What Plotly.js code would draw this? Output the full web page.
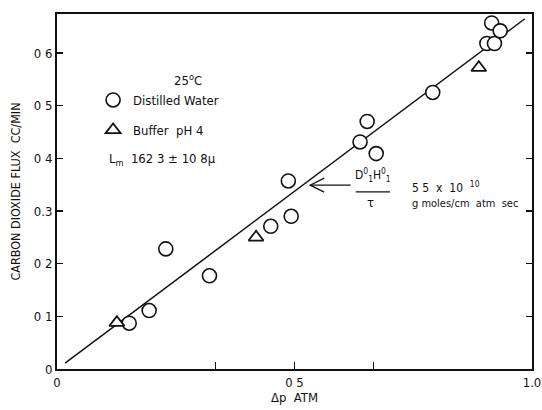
<!DOCTYPE html>
<html>
<head>
<meta charset="utf-8">
<script src="https://cdn.plot.ly/plotly-3.0.1.min.js"></script>
<style>html,body{margin:0;padding:0;background:#fff}#chart{width:542px;height:410px}</style>
</head>
<body>
<div id="chart"></div>
<script>
// Distilled water (circles)
const waterDp   = [0.152, 0.194, 0.229, 0.321, 0.450, 0.487, 0.493, 0.638, 0.653, 0.672, 0.791, 0.905, 0.921, 0.915, 0.933];
const waterFlux = [0.087, 0.111, 0.228, 0.177, 0.271, 0.357, 0.290, 0.431, 0.470, 0.409, 0.525, 0.618, 0.618, 0.657, 0.642];
// Buffer pH 4 (triangles)
const bufferDp   = [0.126, 0.419, 0.888];
const bufferFlux = [0.088, 0.250, 0.572];
// Fitted line
const fitDp   = [0.017, 0.985];
const fitFlux = [0.011, 0.665];
// Tick labels
const xTickVals = [0, 1/3, 0.5, 2/3, 1.0];
const xTickText = ["0", "", "0 5", "", "1.0"];
const yTickVals = [0, 0.1, 0.2, 0.3, 0.4, 0.5, 0.6];
const yTickText = ["0", "0 1", "0 2", "0.3", "0 4", "0 5", "0 6"];

const FONT = "DejaVu Sans Condensed, Liberation Sans Narrow, sans-serif";

const traces = [
  {x: fitDp, y: fitFlux, mode: "lines", line: {color: "#111", width: 1.5}, showlegend: false, hoverinfo: "skip"},
  {x: waterDp, y: waterFlux, mode: "markers", name: "Distilled Water", legendgroup: "a",
   marker: {symbol: "circle", size: 14, color: "#fff", line: {color: "#111", width: 1.6}}},
  {x: bufferDp, y: bufferFlux, mode: "markers", name: "Buffer  pH 4", legendgroup: "b",
   marker: {symbol: "triangle-up", size: 13, color: "#fff", line: {color: "#111", width: 1.8}}}
];

const layout = {
  width: 542, height: 410,
  margin: {l: 57, r: 10, t: 14, b: 41},
  paper_bgcolor: "#fff", plot_bgcolor: "#fff",
  font: {family: FONT, size: 12, color: "#111"},
  showlegend: true,
  legend: {x: 0.076, y: 0.80, xanchor: "left", yanchor: "top", bgcolor: "rgba(0,0,0,0)",
           font: {family: FONT, size: 13, color: "#111"}, tracegroupgap: 10, itemsizing: "trace"},
  xaxis: {range: [0, 1], tickvals: xTickVals, ticktext: xTickText, ticks: "inside", ticklen: 7,
          tickcolor: "#111", tickwidth: 1.5, showgrid: false, zeroline: false,
          showline: true, linecolor: "#111", linewidth: 2, mirror: true,
          title: {text: "Δp  ATM", font: {family: FONT, size: 13}, standoff: 2},
          tickfont: {family: FONT, size: 13}},
  yaxis: {range: [0, 0.674], tickvals: yTickVals, ticktext: yTickText, ticks: "inside", ticklen: 6,
          tickcolor: "#111", tickwidth: 1.5, showgrid: false, zeroline: false,
          showline: true, linecolor: "#111", linewidth: 2, mirror: "ticks",
          title: {text: "CARBON DIOXIDE FLUX  CC/MIN", font: {family: FONT, size: 12.5}, standoff: 10},
          tickfont: {family: FONT, size: 13}},
  annotations: [
    {xref: "paper", yref: "paper", x: 0.242, y: 0.842, text: "25<sup>o</sup>C", showarrow: false, font: {size: 13}},
    {xref: "paper", yref: "paper", x: 0.105, y: 0.589, xanchor: "left", text: "L<sub>m</sub>  162 3 ± 10 8μ", showarrow: false, font: {size: 13}},
    {xref: "paper", yref: "paper", x: 0.665, y: 0.547, text: "D<sup>0</sup><sub>1</sub>H<sup>0</sup><sub>1</sub>", showarrow: false, font: {size: 12}},
    {xref: "paper", yref: "paper", x: 0.660, y: 0.468, text: "τ", showarrow: false, font: {size: 13}},
    {xref: "paper", yref: "paper", x: 0.743, y: 0.512, xanchor: "left", text: "5 5  x  10  <sup>10</sup>", showarrow: false, font: {size: 12}},
    {xref: "paper", yref: "paper", x: 0.743, y: 0.465, xanchor: "left", text: "g moles/cm  atm  sec", showarrow: false, font: {size: 11}},
    {xref: "x", yref: "y", x: 0.533, y: 0.349, ax: 42, ay: 0, text: "", showarrow: true, arrowhead: 0, arrowwidth: 1.3, arrowcolor: "#111", standoff: 0}
  ],
  shapes: [
    {type: "path", xref: "x", yref: "y", xsizemode: "pixel", ysizemode: "pixel", xanchor: 0.533, yanchor: 0.349,
     path: "M 14,-7 L 0,0 L 14,7", line: {color: "#111", width: 1.3}},
    {type: "line", xref: "paper", yref: "paper", x0: 0.629, x1: 0.701, y0: 0.499, y1: 0.499, line: {color: "#111", width: 1.3}}
  ]
};

Plotly.newPlot("chart", traces, layout, {displayModeBar: false, staticPlot: true});
</script>
</body>
</html>
